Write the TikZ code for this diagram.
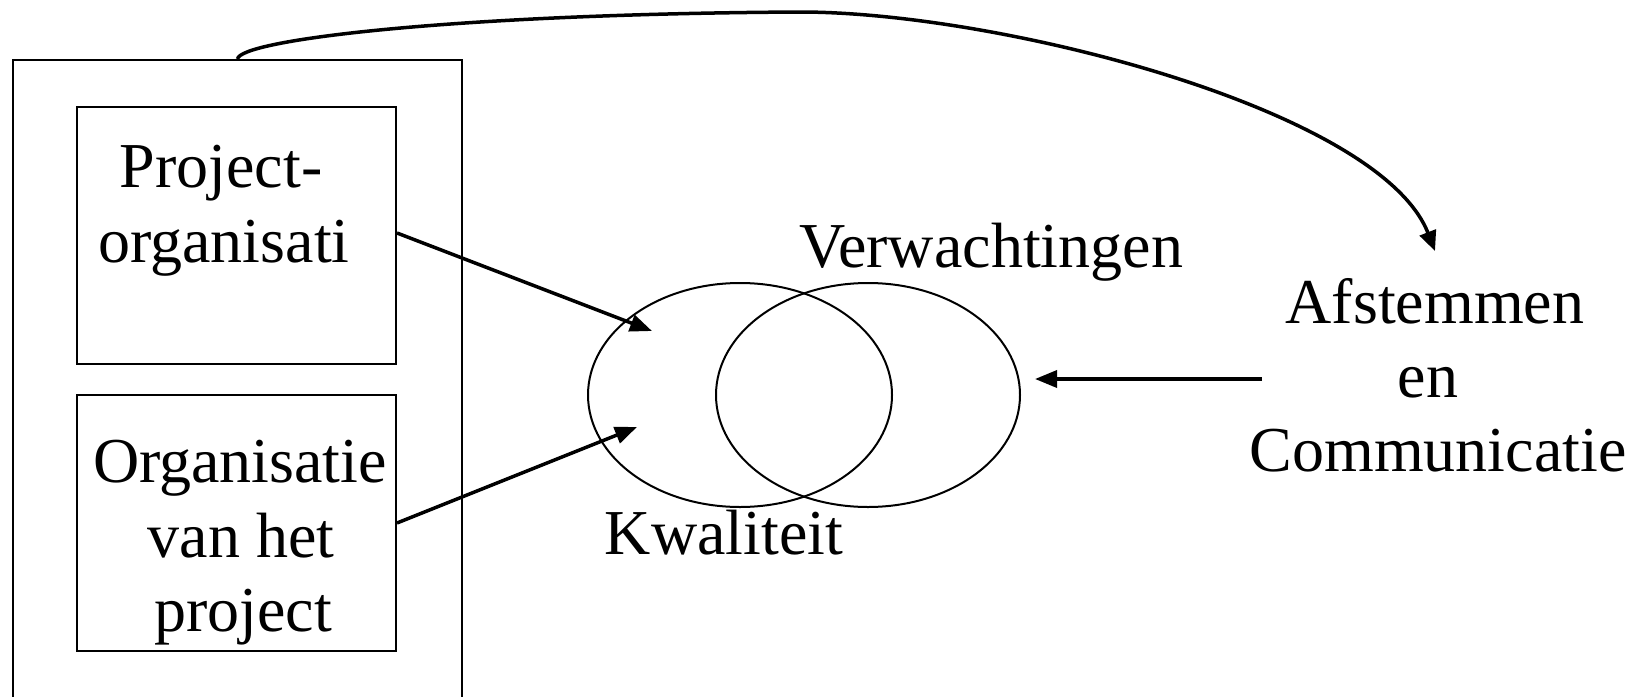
\documentclass[tikz,border=0pt]{standalone}
\usepackage{fontspec}
\setmainfont{Liberation Serif}
\usetikzlibrary{shapes.geometric,arrows.meta}
\begin{document}
\begin{tikzpicture}[x=1pt,y=-1pt,
  boxst/.style={draw,line width=2pt,inner sep=0pt,rectangle},
  ellst/.style={draw,line width=2pt,ellipse,inner sep=0pt,minimum width=304pt,minimum height=224pt},
  lbl/.style={anchor=base,inner sep=0pt,font=\fontsize{64}{74}\selectfont},
  arr/.style={line width=3.5pt,-{Triangle[length=22pt,width=17pt]}}]
\useasboundingbox (0,0) rectangle (1635,696);
% outer frame (bottom edge lies below the picture)
\node[boxst,minimum width=449pt,minimum height=680pt,anchor=north west] (outer) at (12,59) {};
\node[boxst,minimum width=319pt,minimum height=257pt] (pbox) at (236.5,235.5) {};
\node[boxst,minimum width=319pt,minimum height=256pt] (obox) at (236.5,523) {};
% texts
\node[lbl] (p1) at (221,187) {Project-};
\node[lbl] (p2) at (224,262) {organisati};
\node[lbl] (o1) at (240,482) {Organisatie};
\node[lbl] (o2) at (241,557) {van het};
\node[lbl] (o3) at (243,631) {project};
% ellipses
\node[ellst] (kwal) at (740,395) {};
\node[ellst] (verw) at (868,395) {};
\node[lbl] (vt) at (991,267) {Verwachtingen};
\node[lbl] (kt) at (724,554) {Kwaliteit};
\node[lbl] (a1) at (1435,323) {Afstemmen};
\node[lbl] (a2) at (1428,397) {en};
\node[lbl] (a3) at (1438,471) {Communicatie};
% arrow end points
\coordinate (t1) at (652,331);
\coordinate (t2) at (637,427);
\coordinate (hs) at (1262,379);
\coordinate (ht) at (1035,379);
\coordinate (apex) at (800,12);
\coordinate (ct) at (1435,251);
% connectors
\draw[arr] (pbox.east |- 0,233) -- (t1);
\draw[arr] (obox.east |- 0,523) -- (t2);
\draw[arr] (hs) -- (ht);
\draw[line width=3.5pt,-{Triangle[length=20pt,width=17pt]}] (outer.north)
  .. controls (240,40) and (450,14) .. (apex)
  .. controls (1000,12) and (1380,110) .. (ct);
\end{tikzpicture}
\end{document}
